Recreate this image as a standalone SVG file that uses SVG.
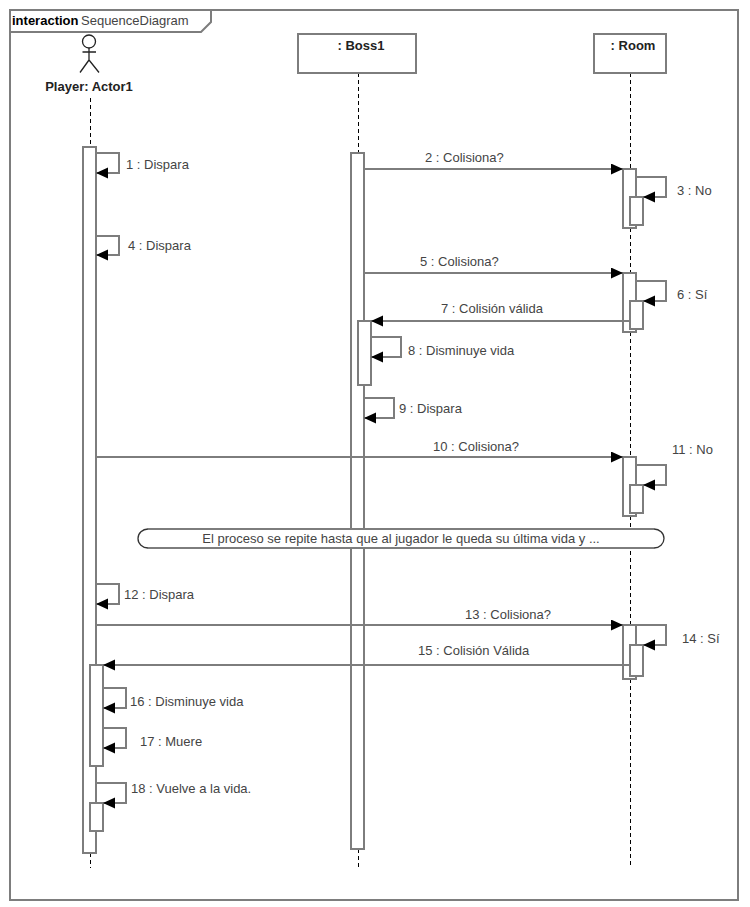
<svg xmlns="http://www.w3.org/2000/svg" width="750" height="907" viewBox="0 0 750 907">
<style>
.s{fill:none;stroke:#7d7d7d;stroke-width:2}
.b{fill:#fff;stroke:#7d7d7d;stroke-width:2}
.l{fill:none;stroke:#000;stroke-width:1;stroke-dasharray:4 3}
.m{fill:none;stroke:#7d7d7d;stroke-width:2;marker-end:url(#a)}
text{font-family:"Liberation Sans",Arial,sans-serif;font-size:13px;fill:#444}
.t{font-weight:bold;fill:#222}
.c{text-anchor:middle}
</style>
<defs><marker id="a" markerUnits="userSpaceOnUse" markerWidth="13" markerHeight="12" refX="12" refY="5.500" orient="auto"><path d="M0 0L12 5.500L0 11Z" fill="#000"/></marker></defs>
<rect width="750" height="907" fill="#fff"/>
<g id="frame">
<rect class="s" x="10" y="10" width="728" height="890"/>
<path class="b" d="M10 10H211V22L201 32H10Z"/>
<text x="12" y="25" class="t" style="fill:#000">interaction</text>
<text x="81" y="25">SequenceDiagram</text>
</g>
<g id="lifelines">
<path class="l" d="M90.500 98V147M90.500 853V868"/>
<path class="l" d="M358.500 73V153M358.500 849V868"/>
<path class="l" d="M630.500 73V169M630.500 228V273M630.500 332V457M630.500 516V625M630.500 679V868"/>
</g>
<g id="actor-player">
<circle class="s" cx="89" cy="41.500" r="6.500" style="stroke:#222;stroke-width:1.300"/>
<path class="s" d="M89 48V60M82.500 52H96M89 60L80 72.500M89 60L99 72.500" style="stroke:#222;stroke-width:1.300"/>
<text x="89" y="91" class="t c">Player: Actor1</text>
</g>
<g id="lifeline-boss"><rect class="b" x="298" y="34" width="118" height="39"/><text x="361" y="50" class="t c">: Boss1</text></g>
<g id="lifeline-room"><rect class="b" x="594" y="34" width="72" height="39"/><text x="633" y="50" class="t c">: Room</text></g>
<g id="activation-player">
<rect class="b" x="83" y="147" width="13" height="706"/>
<rect class="b" x="90" y="665" width="13" height="101"/>
<rect class="b" x="90" y="803" width="13" height="28"/>
</g>
<g id="activation-boss">
<rect class="b" x="351" y="153" width="13" height="696"/>
<rect class="b" x="358" y="321" width="13" height="64"/>
</g>
<g id="activation-room">
<rect class="b" x="623" y="169" width="13" height="59"/><rect class="b" x="630" y="197" width="13" height="28"/>
<rect class="b" x="623" y="273" width="13" height="59"/><rect class="b" x="630" y="301" width="13" height="28"/>
<rect class="b" x="623" y="457" width="13" height="59"/><rect class="b" x="630" y="485" width="13" height="28"/>
<rect class="b" x="623" y="625" width="13" height="54"/><rect class="b" x="630" y="645" width="13" height="31"/>
</g>
<g id="connectors">
<path class="m" d="M96 153H119V173H96"/>
<path class="m" d="M364 169H623"/>
<path class="m" d="M636 177H666V197H643"/>
<path class="m" d="M96 236H119V255H96"/>
<path class="m" d="M364 273H623"/>
<path class="m" d="M636 281H666V301H643"/>
<path class="m" d="M630 321H371"/>
<path class="m" d="M371 337H401V357H371"/>
<path class="m" d="M364 398H394V418H364"/>
<path class="m" d="M96 457H623"/>
<path class="m" d="M636 465H666V485H643"/>
<path class="m" d="M96 584H119V604H96"/>
<path class="m" d="M96 625H623"/>
<path class="m" d="M636 625H666V645H643"/>
<path class="m" d="M630 665H103"/>
<path class="m" d="M103 688H126V708H103"/>
<path class="m" d="M103 728H126V748H103"/>
<path class="m" d="M96 783H126V803H103"/>
</g>
<g id="labels">
<text x="126" y="169">1 : Dispara</text>
<text x="425" y="162">2 : Colisiona?</text>
<text x="677" y="195">3 : No</text>
<text x="128" y="250">4 : Dispara</text>
<text x="420" y="266">5 : Colisiona?</text>
<text x="677" y="299">6 : Sí</text>
<text x="441" y="313">7 : Colisión válida</text>
<text x="408" y="355">8 : Disminuye vida</text>
<text x="399" y="413">9 : Dispara</text>
<text x="433" y="451">10 : Colisiona?</text>
<text x="672" y="454">11 : No</text>
<text x="124" y="599">12 : Dispara</text>
<text x="465" y="619">13 : Colisiona?</text>
<text x="682" y="643">14 : Sí</text>
<text x="418" y="655">15 : Colisión Válida</text>
<text x="130" y="706">16 : Disminuye vida</text>
<text x="140" y="746">17 : Muere</text>
<text x="131" y="793">18 : Vuelve a la vida.</text>
</g>
<g id="note">
<rect x="138" y="529" width="526" height="19" rx="10" ry="9.500" fill="#fff"/>
<path class="s" d="M148 529H654M148 548H654"/>
<path d="M148 529A10 9.500 0 0 0 148 548M654 529A10 9.500 0 0 1 654 548" fill="none" stroke="#333" stroke-width="1.300"/>
<text x="401" y="543" class="c">El proceso se repite hasta que al jugador le queda su última vida y ...</text>
</g>
</svg>
